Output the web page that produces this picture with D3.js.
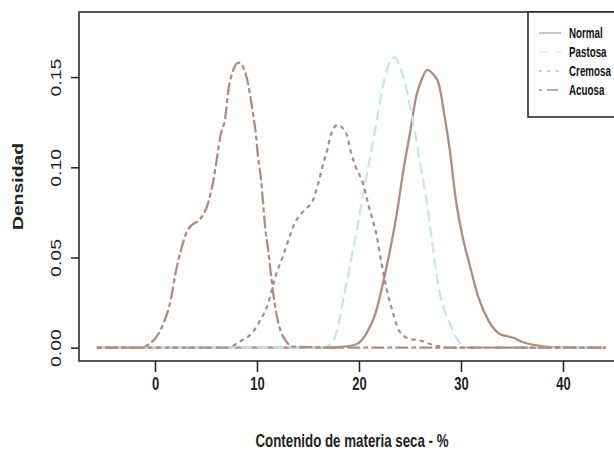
<!DOCTYPE html>
<html>
<head>
<meta charset="utf-8">
<script src="https://cdn.jsdelivr.net/npm/d3@7"></script>
<style>
	body { margin: 0; background: #fff; }
	svg { display: block; }
	text { font-family: "Liberation Sans", Arial, sans-serif; }
</style>
</head>
<body>
<div class="chart"></div>
<script>
// densidades (x = % materia seca, y = densidad)
var normalX = [-5.6, 17, 18.5, 19.8, 20.7, 21.6, 22.2, 22.9, 23.7, 24.3, 25, 25.6, 26.1, 26.7, 27.2, 27.8, 28.4, 28.9, 29.5, 30.1, 30.9, 31.7, 32.7, 33.8, 35.1, 36.1, 37.4, 39, 44.1];
var normalY = [0, 0, 0.0005, 0.002, 0.0076, 0.0187, 0.032, 0.05, 0.074, 0.0965, 0.119, 0.139, 0.148, 0.154, 0.152, 0.1467, 0.128, 0.1096, 0.082, 0.063, 0.0448, 0.028, 0.015, 0.0076, 0.0055, 0.003, 0.0013, 0.0003, 0];

var pastosaX = [-5.6, 16.5, 17.5, 18, 18.5, 19, 19.5, 20, 20.5, 21, 21.5, 22, 22.5, 23, 23.5, 24, 24.5, 25, 25.5, 26, 26.5, 27, 27.5, 28, 28.5, 29, 29.5, 30.5, 44.1];
var pastosaY = [0, 0, 0.004, 0.013, 0.028, 0.042, 0.057, 0.072, 0.088, 0.103, 0.118, 0.134, 0.149, 0.158, 0.161, 0.156, 0.147, 0.134, 0.119, 0.102, 0.086, 0.066, 0.045, 0.028, 0.019, 0.012, 0.006, 0, 0];

var cremosaX = [-5.6, 7, 8.5, 9.5, 10.3, 11, 11.9, 12.5, 13.1, 13.7, 14.6, 15.5, 16, 16.4, 16.9, 17.3, 17.9, 18.8, 19.2, 19.7, 20.4, 20.8, 21.2, 21.7, 22.2, 22.9, 23.4, 23.9, 24.9, 26, 27, 29, 44.1];
var cremosaY = [0, 0, 0.004, 0.008, 0.015, 0.023, 0.041, 0.05, 0.06, 0.069, 0.076, 0.082, 0.091, 0.1, 0.11, 0.119, 0.1235, 0.118, 0.1085, 0.1, 0.091, 0.082, 0.0735, 0.063, 0.047, 0.028, 0.018, 0.0096, 0.005, 0.004, 0.002, 0, 0];

var acuosaX = [-5.6, -1.5, 0, 0.8, 1.6, 2, 2.5, 3.1, 3.6, 4.4, 5.2, 5.7, 6.1, 6.4, 6.9, 7.2, 7.5, 8.2, 8.7, 9.3, 9.6, 9.9, 10.1, 10.4, 10.6, 10.8, 11.1, 11.4, 11.6, 11.9, 12.4, 12.8, 13.5, 20, 44.1];
var acuosaY = [0, 0, 0.005, 0.013, 0.028, 0.041, 0.053, 0.064, 0.068, 0.071, 0.08, 0.092, 0.106, 0.117, 0.128, 0.143, 0.151, 0.158, 0.155, 0.141, 0.13, 0.118, 0.106, 0.093, 0.08, 0.067, 0.054, 0.039, 0.03, 0.019, 0.008, 0.004, 0.0005, 0, 0];

var seriesNames = ["Normal", "Pastosa", "Cremosa", "Acuosa"];
var xTicks = [0, 10, 20, 30, 40];
var yTicks = [0, 0.05, 0.10, 0.15];

(function drawDensities() {
	"use strict";
	var width = 614;
	var height = 461;
	var left = 79, right = 625, top = 12, bottom = 361;
	var brown = "#a88f86";

	var series = [
		{ name: seriesNames[0], x: normalX, y: normalY, color: brown, dash: null },
		{ name: seriesNames[1], x: pastosaX, y: pastosaY, color: "#cde4e2", dash: "9,7" },
		{ name: seriesNames[2], x: cremosaX, y: cremosaY, color: brown, dash: "2.5,6" },
		{ name: seriesNames[3], x: acuosaX, y: acuosaY, color: brown, dash: "3,5,11,5" }
	];

	// the picture is stretched: horizontal text looks narrow, vertical text wide
	function squeeze(sel, k) {
		sel.each(function() {
			var t = d3.select(this);
			var x = +t.attr("x") || 0, y = +t.attr("y") || 0;
			t.attr("x", 0).attr("y", 0)
			 .attr("transform", "translate(" + x + "," + y + ") scale(" + k + ",1)");
		});
	}

	var svg = d3.select(".chart")
				.append("svg")
				.attr("width", width)
				.attr("height", height);

	var xScale = d3.scaleLinear()
				   .domain([-7.45, 46.08])
				   .range([left, right]);

	var yScale = d3.scaleLinear()
				   .domain([-0.0074, 0.1861])
				   .range([bottom, top]);

	var line = d3.line()
				 .x(function(d) { return xScale(d[0]); })
				 .y(function(d) { return yScale(d[1]); })
				 .curve(d3.curveMonotoneX);

	// curvas
	series.forEach(function(s) {
		var pts = s.x.map(function(v, i) { return [v, s.y[i]]; });
		svg.append("path")
		   .datum(pts)
		   .attr("d", line)
		   .attr("fill", "none")
		   .attr("stroke", s.color)
		   .attr("stroke-width", 2.3)
		   .attr("stroke-linecap", "round")
		   .attr("stroke-dasharray", s.dash);
	});

	// caja
	svg.append("rect")
	   .attr("x", left)
	   .attr("y", top)
	   .attr("width", right - left)
	   .attr("height", bottom - top)
	   .attr("fill", "none")
	   .attr("stroke", "#2b2b2b")
	   .attr("stroke-width", 1.6);

	var xAxis = d3.axisBottom(xScale)
				  .tickValues(xTicks)
				  .tickSize(11)
				  .tickFormat(d3.format("d"));

	var gx = svg.append("g")
				.attr("transform", "translate(0," + bottom + ")")
				.call(xAxis);
	gx.select(".domain").remove();
	gx.selectAll("line").attr("stroke", "#2b2b2b").attr("stroke-width", 1.6);
	gx.selectAll("text")
	  .attr("y", 16)
	  .attr("dy", "0.71em")
	  .attr("fill", "#222")
	  .style("font-weight", "bold")
	  .style("font-size", "18px")
	  .call(squeeze, 0.72);

	var yAxis = d3.axisLeft(yScale)
				  .tickValues(yTicks)
				  .tickSize(8)
				  .tickFormat(d3.format(".2f"));

	var gy = svg.append("g")
				.attr("transform", "translate(" + left + ",0)")
				.call(yAxis);
	gy.select(".domain").remove();
	gy.selectAll("line").attr("stroke", "#2b2b2b").attr("stroke-width", 1.6);
	gy.selectAll("text")
	  .attr("x", null)
	  .attr("dy", null)
	  .attr("transform", "translate(-18,0) rotate(-90) scale(1.3,1)")
	  .attr("text-anchor", "middle")
	  .attr("fill", "#222")
	  .style("font-size", "15px");

	// titulos
	svg.append("text")
	   .attr("x", (left + right) / 2)
	   .attr("y", 447)
	   .attr("text-anchor", "middle")
	   .attr("fill", "#222")
	   .style("font-weight", "bold")
	   .style("font-size", "18px")
	   .text("Contenido de materia seca - %")
	   .call(squeeze, 0.74);

	svg.append("text")
	   .attr("transform", "translate(23," + (top + bottom) / 2 + ") rotate(-90) scale(1.38,1)")
	   .attr("text-anchor", "middle")
	   .attr("fill", "#222")
	   .style("font-weight", "bold")
	   .style("font-size", "14px")
	   .text("Densidad");

	// leyenda
	var legend = svg.append("g");
	legend.append("rect")
		  .attr("x", 528)
		  .attr("y", top)
		  .attr("width", right - 528)
		  .attr("height", 117 - top)
		  .attr("fill", "#fff")
		  .attr("stroke", "#2b2b2b")
		  .attr("stroke-width", 1.6);

	series.forEach(function(s, i) {
		var ly = 33 + i * 19;
		legend.append("line")
			  .attr("x1", 539)
			  .attr("x2", 561)
			  .attr("y1", ly)
			  .attr("y2", ly)
			  .attr("stroke", s.color)
			  .attr("stroke-width", 1.5)
			  .attr("stroke-dasharray", s.dash)
			  .attr("opacity", i === 3 ? 1 : 0.7);
		legend.append("text")
			  .attr("x", 569)
			  .attr("y", ly + 5)
			  .attr("fill", "#111")
			  .style("font-weight", "bold")
			  .style("font-size", "14px")
			  .text(s.name)
			  .call(squeeze, 0.7);
	});
}());
</script>
</body>
</html>
